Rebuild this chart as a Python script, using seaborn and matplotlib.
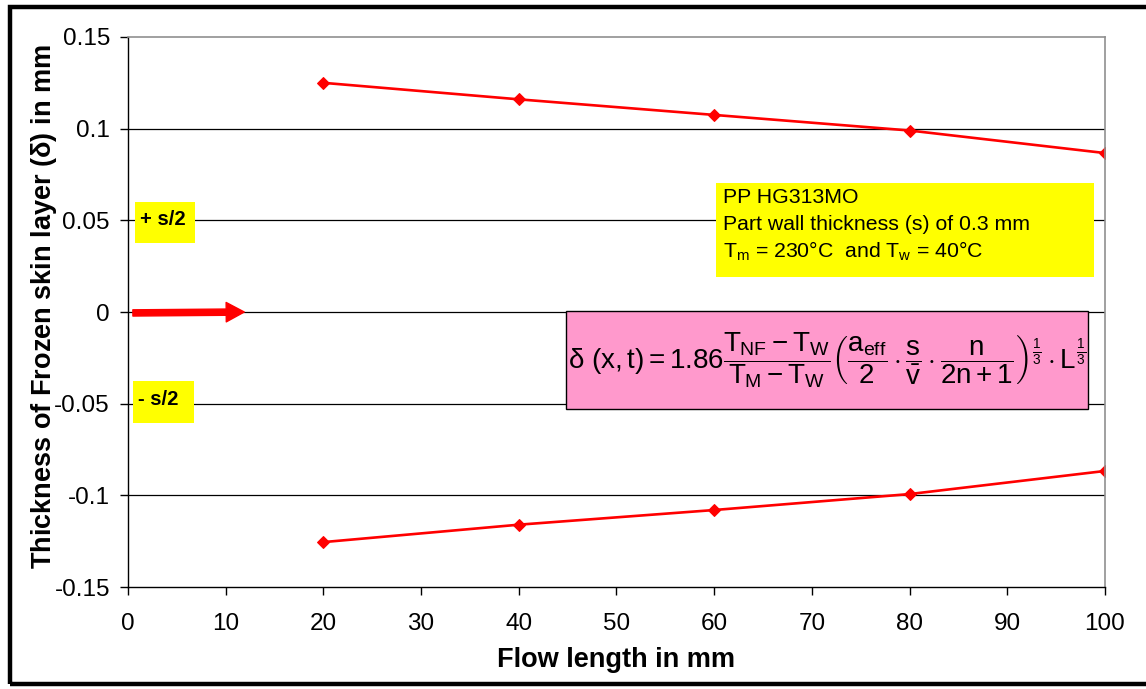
import matplotlib
matplotlib.use("Agg")
import matplotlib.pyplot as plt
import matplotlib.patches as mpatches
import seaborn as sns
import pandas as pd

# ---- data ----
flow_length = [20, 40, 60, 80, 100]
upper_skin = [0.125, 0.116, 0.1075, 0.099, 0.0867]
lower_skin = [-0.1255, -0.116, -0.108, -0.0993, -0.0867]
x_ticks = [0, 10, 20, 30, 40, 50, 60, 70, 80, 90, 100]
y_ticks = [-0.15, -0.1, -0.05, 0, 0.05, 0.1, 0.15]
y_ticklabels = ["-0.15", "-0.1", "-0.05", "0", "0.05", "0.1", "0.15"]
info_lines = ["PP HG313MO", "Part wall thickness (s) of 0.3 mm",
              r"T$_{\mathregular{m}}$ = 230°C  and T$_{\mathregular{w}}$ = 40°C"]
formula = (r"$\delta\ (x,t) = 1.86\dfrac{T_{NF}-T_W}{T_M-T_W}"
           r"\left(\dfrac{a_{eff}}{2}\cdot\dfrac{s}{\bar{v}}\cdot\dfrac{n}{2n+1}\right)^{\frac{1}{3}}"
           r"\cdot L^{\frac{1}{3}}$")

sns.set_style("white")
plt.rcParams['font.family'] = ['Liberation Sans', 'DejaVu Sans']
plt.rcParams['mathtext.fontset'] = 'custom'
plt.rcParams['mathtext.rm'] = 'Liberation Sans'
plt.rcParams['mathtext.it'] = 'Liberation Sans'
plt.rcParams['mathtext.bf'] = 'Liberation Sans:bold'
for k in ['text.color', 'axes.labelcolor', 'xtick.color', 'ytick.color']:
    plt.rcParams[k] = 'black'

fig = plt.figure(figsize=(11.46, 6.89), dpi=100)
ax = fig.add_axes([0.1117, 0.148, 0.9642 - 0.1117, 0.9463 - 0.148])

df = pd.DataFrame({"x": flow_length * 2,
                   "y": upper_skin + lower_skin,
                   "s": ["upper"] * len(flow_length) + ["lower"] * len(flow_length)})
sns.lineplot(data=df, x="x", y="y", units="s", estimator=None, ax=ax,
             color="#ff0000", linewidth=1.9, marker="D", markersize=6,
             markeredgecolor="#ff0000", legend=False)

ax.set_xlim(0, 100)
ax.set_ylim(-0.15, 0.15)
ax.set_xticks(x_ticks)
ax.set_yticks(y_ticks)
ax.set_yticklabels(y_ticklabels)
ax.tick_params(axis="both", labelsize=17.5, direction="out", length=6, width=1,
               color="black", labelcolor="black", left=True, bottom=True)
ax.tick_params(axis="y", pad=7)
ax.tick_params(axis="x", pad=13)
for yv in y_ticks[1:-1]:
    ax.axhline(yv, color="#000000", linewidth=0.9, zorder=0)
for side in ["top", "right"]:
    ax.spines[side].set_color("#909090")
    ax.spines[side].set_linewidth(1.2)
for side in ["left", "bottom"]:
    ax.spines[side].set_color("black")
    ax.spines[side].set_linewidth(1.0)

ax.set_xlabel("Flow length in mm", fontsize=19.5, fontweight="bold", labelpad=8)
ax.set_ylabel(r"Thickness of Frozen skin layer ($\mathbf{\delta}$) in mm", fontsize=19.5,
              fontweight="bold")
ax.yaxis.set_label_coords(-0.071, 0.51)

# yellow info box
ax.add_patch(mpatches.Rectangle((60.2, 0.0192), 98.9 - 60.2, 0.0703 - 0.0192,
                                transform=ax.transData, facecolor="#ffff00",
                                edgecolor="none", zorder=3))
for i, t in enumerate(info_lines):
    ax.text(60.9, 0.0622 - i * 0.0145, t, fontsize=15.3, ha="left", va="center", zorder=4)

# pink formula box
ax.add_patch(mpatches.Rectangle((44.8, -0.0529), 98.3 - 44.8, 0.0529 + 0.0005,
                                transform=ax.transData, facecolor="#ff99cc",
                                edgecolor="black", linewidth=1.0, zorder=3))
ax.text(71.55, -0.026, formula, fontsize=20, ha="center", va="center", zorder=4)

# +/- s/2 labels
ax.add_patch(mpatches.Rectangle((0.7, 0.0375), 6.9 - 0.7, 0.0598 - 0.0375,
                                facecolor="#ffff00", edgecolor="none", zorder=3))
ax.text(1.2, 0.0505, "+ s/2", fontsize=14.5, fontweight="bold", ha="left", va="center", zorder=4)
ax.add_patch(mpatches.Rectangle((0.5, -0.0605), 6.8 - 0.5, 0.0605 - 0.0375,
                                facecolor="#ffff00", edgecolor="none", zorder=3))
ax.text(1.0, -0.0475, "- s/2", fontsize=14.5, fontweight="bold", ha="left", va="center", zorder=4)

# arrow
ax.annotate("", xy=(11.9, 0.0), xytext=(0.5, -0.0005),
            arrowprops=dict(arrowstyle="simple,head_length=1.3,head_width=1.4,tail_width=0.45",
                            color="#ff0000", shrinkA=0, shrinkB=0), zorder=5)

# figure frame
fig.add_artist(mpatches.Rectangle((0.0087, 0.0073), 1.05, 0.9898 - 0.0073,
                                  transform=fig.transFigure, fill=False,
                                  edgecolor="black", linewidth=3.2))

fig.savefig("out.png", dpi=100)
